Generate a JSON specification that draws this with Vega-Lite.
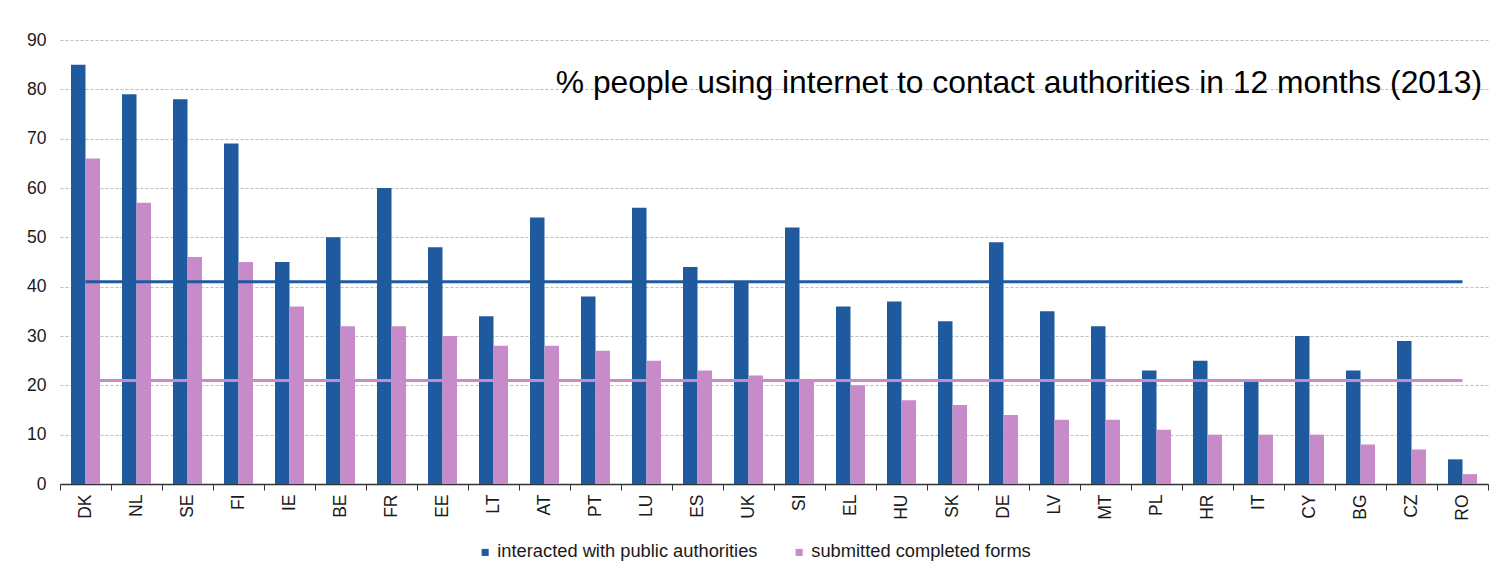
{
  "$schema": "https://vega.github.io/schema/vega-lite/v6.json",
  "autosize": {"type": "none"},
  "width": 1428,
  "height": 444,
  "padding": {"left": 60, "top": 40, "right": 7, "bottom": 92},
  "background": "white",
  "config": {
    "font": "Liberation Sans",
    "view": {"stroke": null},
    "axis": {"labelFont": "Liberation Sans", "labelFontSize": 17.5, "labelColor": "#1a1a1a"}
  },
  "title": {
    "text": "% people using internet to contact authorities in 12 months (2013)",
    "anchor": "end",
    "frame": "group",
    "orient": "top",
    "offset": 0,
    "baseline": "alphabetic",
    "dy": 94,
    "dx": -6,
    "font": "Liberation Sans",
    "fontSize": 31.8,
    "fontWeight": "normal",
    "color": "#000000"
  },
  "datasets": {
    "bars": [
      {"country": "DK", "series": "interacted with public authorities", "value": 85},
      {"country": "DK", "series": "submitted completed forms", "value": 66},
      {"country": "NL", "series": "interacted with public authorities", "value": 79},
      {"country": "NL", "series": "submitted completed forms", "value": 57},
      {"country": "SE", "series": "interacted with public authorities", "value": 78},
      {"country": "SE", "series": "submitted completed forms", "value": 46},
      {"country": "FI", "series": "interacted with public authorities", "value": 69},
      {"country": "FI", "series": "submitted completed forms", "value": 45},
      {"country": "IE", "series": "interacted with public authorities", "value": 45},
      {"country": "IE", "series": "submitted completed forms", "value": 36},
      {"country": "BE", "series": "interacted with public authorities", "value": 50},
      {"country": "BE", "series": "submitted completed forms", "value": 32},
      {"country": "FR", "series": "interacted with public authorities", "value": 60},
      {"country": "FR", "series": "submitted completed forms", "value": 32},
      {"country": "EE", "series": "interacted with public authorities", "value": 48},
      {"country": "EE", "series": "submitted completed forms", "value": 30},
      {"country": "LT", "series": "interacted with public authorities", "value": 34},
      {"country": "LT", "series": "submitted completed forms", "value": 28},
      {"country": "AT", "series": "interacted with public authorities", "value": 54},
      {"country": "AT", "series": "submitted completed forms", "value": 28},
      {"country": "PT", "series": "interacted with public authorities", "value": 38},
      {"country": "PT", "series": "submitted completed forms", "value": 27},
      {"country": "LU", "series": "interacted with public authorities", "value": 56},
      {"country": "LU", "series": "submitted completed forms", "value": 25},
      {"country": "ES", "series": "interacted with public authorities", "value": 44},
      {"country": "ES", "series": "submitted completed forms", "value": 23},
      {"country": "UK", "series": "interacted with public authorities", "value": 41},
      {"country": "UK", "series": "submitted completed forms", "value": 22},
      {"country": "SI", "series": "interacted with public authorities", "value": 52},
      {"country": "SI", "series": "submitted completed forms", "value": 21},
      {"country": "EL", "series": "interacted with public authorities", "value": 36},
      {"country": "EL", "series": "submitted completed forms", "value": 20},
      {"country": "HU", "series": "interacted with public authorities", "value": 37},
      {"country": "HU", "series": "submitted completed forms", "value": 17},
      {"country": "SK", "series": "interacted with public authorities", "value": 33},
      {"country": "SK", "series": "submitted completed forms", "value": 16},
      {"country": "DE", "series": "interacted with public authorities", "value": 49},
      {"country": "DE", "series": "submitted completed forms", "value": 14},
      {"country": "LV", "series": "interacted with public authorities", "value": 35},
      {"country": "LV", "series": "submitted completed forms", "value": 13},
      {"country": "MT", "series": "interacted with public authorities", "value": 32},
      {"country": "MT", "series": "submitted completed forms", "value": 13},
      {"country": "PL", "series": "interacted with public authorities", "value": 23},
      {"country": "PL", "series": "submitted completed forms", "value": 11},
      {"country": "HR", "series": "interacted with public authorities", "value": 25},
      {"country": "HR", "series": "submitted completed forms", "value": 10},
      {"country": "IT", "series": "interacted with public authorities", "value": 21},
      {"country": "IT", "series": "submitted completed forms", "value": 10},
      {"country": "CY", "series": "interacted with public authorities", "value": 30},
      {"country": "CY", "series": "submitted completed forms", "value": 10},
      {"country": "BG", "series": "interacted with public authorities", "value": 23},
      {"country": "BG", "series": "submitted completed forms", "value": 8},
      {"country": "CZ", "series": "interacted with public authorities", "value": 29},
      {"country": "CZ", "series": "submitted completed forms", "value": 7},
      {"country": "RO", "series": "interacted with public authorities", "value": 5},
      {"country": "RO", "series": "submitted completed forms", "value": 2}
    ],
    "averages": [
      {"series": "interacted with public authorities", "from": "DK", "to": "RO", "value": 41},
      {"series": "submitted completed forms", "from": "DK", "to": "RO", "value": 21}
    ]
  },
  "layer": [
    {
      "data": {"name": "bars"},
      "mark": {"type": "bar"},
      "encoding": {
        "x": {
          "field": "country",
          "type": "nominal",
          "sort": null,
          "scale": {
            "domain": ["DK", "NL", "SE", "FI", "IE", "BE", "FR", "EE", "LT", "AT", "PT", "LU", "ES", "UK", "SI", "EL", "HU", "SK", "DE", "LV", "MT", "PL", "HR", "IT", "CY", "BG", "CZ", "RO"],
            "paddingInner": 0,
            "paddingOuter": 0
          },
          "axis": {
            "title": null,
            "labelAngle": -90,
            "labelAlign": "right",
            "labelBaseline": "middle",
            "labelPadding": 4,
            "tickBand": "extent",
            "tickSize": 6,
            "tickColor": "#333333",
            "domainColor": "#333333",
            "domainWidth": 1.5,
            "grid": false
          }
        },
        "xOffset": {
          "field": "series",
          "type": "nominal",
          "scale": {"paddingOuter": 0.76, "paddingInner": 0}
        },
        "y": {
          "field": "value",
          "type": "quantitative",
          "scale": {"domain": [0, 90]},
          "axis": {
            "title": null,
            "values": [0, 10, 20, 30, 40, 50, 60, 70, 80, 90],
            "domain": false,
            "ticks": false,
            "labelPadding": 14,
            "gridColor": "#bdbdbd",
            "gridDash": [3, 2],
            "gridWidth": 1
          }
        },
        "color": {
          "field": "series",
          "type": "nominal",
          "scale": {
            "domain": ["interacted with public authorities", "submitted completed forms"],
            "range": ["#1f5a9f", "#c68bc8"]
          },
          "legend": {
            "title": null,
            "orient": "none",
            "direction": "horizontal",
            "legendX": 416,
            "legendY": 503,
            "symbolType": "square",
            "symbolSize": 50,
            "symbolStrokeWidth": 0,
            "labelFont": "Liberation Sans",
            "labelFontSize": 18.3,
            "labelColor": "#1a1a1a",
            "labelLimit": 0,
            "labelOffset": 3,
            "columnPadding": 32
          }
        }
      }
    },
    {
      "data": {"name": "averages"},
      "mark": {"type": "rule", "strokeWidth": 3},
      "encoding": {
        "x": {"field": "from", "type": "nominal", "bandPosition": 0.5},
        "x2": {"field": "to", "bandPosition": 0.5},
        "y": {"field": "value", "type": "quantitative"},
        "color": {"field": "series", "type": "nominal", "legend": null}
      }
    }
  ]
}
